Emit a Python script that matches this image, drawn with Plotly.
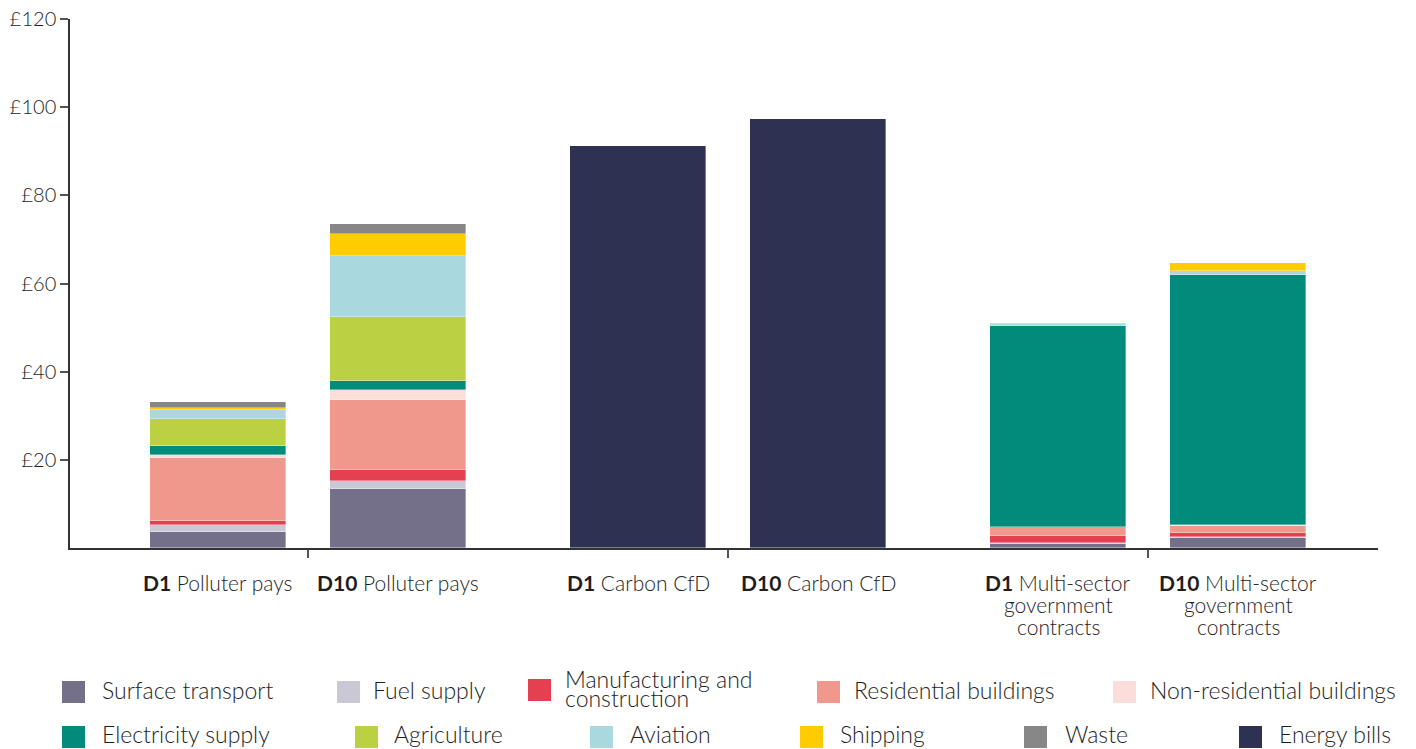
import plotly.graph_objects as go

# ---- data ----
bar_labels = [
    "<b>D1</b> Polluter pays",
    "<b>D10</b> Polluter pays",
    "<b>D1</b> Carbon CfD",
    "<b>D10</b> Carbon CfD",
    "<b>D1</b> Multi-sector<br>government<br>contracts",
    "<b>D10</b> Multi-sector<br>government<br>contracts",
]
sectors = [
    "Surface transport", "Fuel supply", "Manufacturing and<br>construction",
    "Residential buildings", "Non-residential buildings", "Electricity supply",
    "Agriculture", "Aviation", "Shipping", "Waste", "Energy bills",
]
surface_transport = [3.7, 13.3, 0, 0, 0.9, 2.3]
fuel_supply = [1.6, 2.0, 0, 0, 0.3, 0.3]
manufacturing = [0.8, 2.3, 0, 0, 1.5, 0.8]
residential = [14.4, 15.9, 0, 0, 2.0, 1.7]
non_residential = [0.5, 2.3, 0, 0, 0.1, 0.1]
electricity = [2.1, 2.0, 0, 0, 45.6, 56.8]
agriculture = [6.2, 14.6, 0, 0, 0, 0]
aviation = [2.0, 13.8, 0, 0, 0.5, 0.75]
shipping = [0.5, 5.1, 0, 0, 0.2, 2.0]
waste = [1.4, 2.1, 0, 0, 0, 0]
energy_bills = [0, 0, 91.2, 97.3, 0, 0]
series = [surface_transport, fuel_supply, manufacturing, residential, non_residential,
          electricity, agriculture, aviation, shipping, waste, energy_bills]
colors = ["#747089", "#cbc8d6", "#e5404f", "#f1988c", "#fbded9", "#008b7b",
          "#bcd142", "#a9d8de", "#ffcc00", "#878787", "#2e3152"]
y_ticks = [20, 40, 60, 80, 100, 120]

# ---- layout helpers ----
GROUP_STEP = 7 / 3
xpos = [(i // 2) * GROUP_STEP + (i % 2) for i in range(len(bar_labels))]
group_centers = [g * GROUP_STEP + 0.5 for g in range(3)]

W, H = 1416, 749
L, R, T, B = 70, 38, 19, 201
PW, PH = W - L - R, H - T - B
FONT = "Lato"
TXT = "#1e1e1e"
LIGHT = 300

fig = go.Figure()
for name, vals, col in zip(sectors, series, colors):
    fig.add_trace(go.Bar(
        x=xpos, y=vals, name=name.replace("<br>", " "), width=0.76,
        marker=dict(color=col, line=dict(color="rgba(255,255,255,0.6)", width=0.6)),
        showlegend=False,
    ))

annotations = []
for xp, lab in zip(xpos, bar_labels):
    for k, line in enumerate(lab.split("<br>")):
        annotations.append(dict(
            x=xp, y=0, xref="x", yref="paper", yanchor="middle", yshift=-34 - 22 * k,
            text=line, showarrow=False, align="center",
            font=dict(family=FONT, size=21, color=TXT, weight=LIGHT),
        ))

def px2paper(px, py):
    return (px - L) / PW, (H - B - py) / PH

# custom legend
legend_items = [
    # (sector index, square left px, text left px, square center y px, text center y px)
    (0, 62, 100, 692, 690), (1, 337, 371, 692, 690), (2, 528, 563, 690, 688),
    (3, 817, 852, 692, 690), (4, 1113, 1148, 692, 690),
    (5, 62, 100, 737, 734), (6, 355, 392, 737, 734), (7, 590, 628, 737, 734),
    (8, 800, 838, 737, 734), (9, 1024, 1063, 737, 734), (10, 1239, 1277, 737, 734),
]
shapes = []
for idx, sx, tx, cy, ty in legend_items:
    x0, y0 = px2paper(sx, cy + 11)
    x1, y1 = px2paper(sx + 23, cy - 11)
    shapes.append(dict(type="rect", xref="paper", yref="paper",
                       x0=x0, y0=y0, x1=x1, y1=y1,
                       fillcolor=colors[idx], line=dict(width=0)))
    lines = sectors[idx].split("<br>")
    n = len(lines)
    for k, line in enumerate(lines):
        ly = ty + (k - (n - 1) / 2) * 19
        ax, ay = px2paper(tx, ly)
        annotations.append(dict(
            x=ax, y=ay, xref="paper", yref="paper", xanchor="left", yanchor="middle",
            text=line, showarrow=False, align="left",
            font=dict(family=FONT, size=23, color=TXT, weight=LIGHT),
        ))

fig.update_layout(
    width=W, height=H,
    margin=dict(l=L, r=R, t=T, b=B, autoexpand=False),
    paper_bgcolor="white", plot_bgcolor="white",
    barmode="stack", bargap=0,
    font=dict(family=FONT, size=19, color=TXT, weight=LIGHT),
    xaxis=dict(
        range=[-0.822, 6.444], showgrid=False, zeroline=False, automargin=False,
        showline=True, linecolor="#333333", linewidth=1.5,
        tickmode="array", tickvals=group_centers, ticktext=["", "", ""],
        ticks="outside", ticklen=8, tickcolor="#555555", tickwidth=1.5,
    ),
    yaxis=dict(
        range=[0, 120], showgrid=False, zeroline=False, automargin=False,
        showline=True, linecolor="#333333", linewidth=1.5,
        tickmode="array", tickvals=y_ticks, ticktext=[f"£{v}" for v in y_ticks],
        ticks="outside", ticklen=8, tickcolor="#555555", tickwidth=1.5,
        tickfont=dict(family=FONT, size=20, color=TXT, weight=LIGHT),
    ),
    annotations=annotations,
    shapes=shapes,
)

fig.write_html(
    "out.html",
    config={"displayModeBar": False},
    post_script="document.body.style.margin='0';document.body.style.overflow='hidden';",
)
